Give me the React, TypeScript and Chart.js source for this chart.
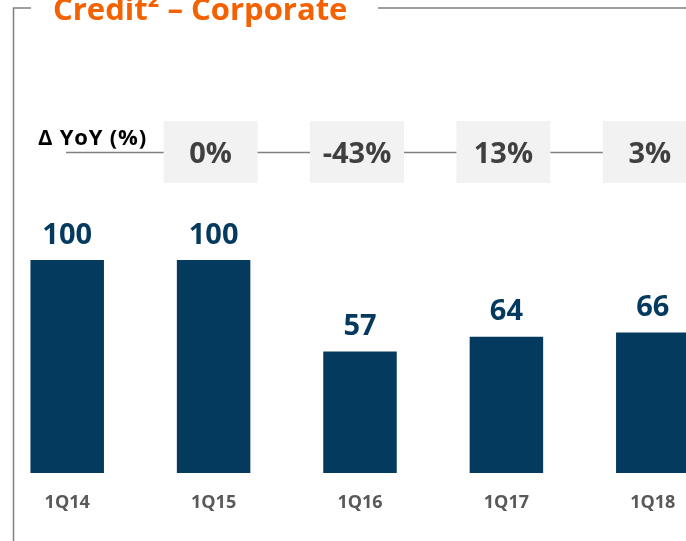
import { useEffect, useRef } from 'react';
import { Chart, registerables } from 'chart.js';

Chart.register(...registerables);

const categories = ['1Q14', '1Q15', '1Q16', '1Q17', '1Q18'];
const values = [100, 100, 57, 64, 66];
const yoyChanges = ['0%', '-43%', '13%', '3%'];
const titleText = 'Credit² – Corporate';
const yoyTitle = 'Δ YoY (%)';

const FONT = "'Open Sans', sans-serif";
const OX = 6; // canvas is shifted 6px left of the page

export default function App() {
  const ref = useRef<HTMLCanvasElement>(null);

  useEffect(() => {
    const canvas = ref.current!;
    const overlay = {
      id: 'overlay',
      beforeDatasetsDraw(chart: any) {
        const ctx = chart.ctx;
        const x = chart.scales.x;
        ctx.save();
        // frame
        ctx.strokeStyle = '#808080';
        ctx.lineWidth = 1.5;
        ctx.beginPath();
        ctx.moveTo(13.5 + OX, 541);
        ctx.lineTo(13.5 + OX, 8);
        ctx.lineTo(31 + OX, 8);
        ctx.moveTo(378 + OX, 8);
        ctx.lineTo(740, 8);
        ctx.stroke();
        // title
        ctx.fillStyle = '#F46100';
        ctx.font = `bold 31px ${FONT}`;
        ctx.textAlign = 'left';
        ctx.textBaseline = 'alphabetic';
        ctx.fillText(titleText, 53 + OX, 20);
        // yoy title
        ctx.fillStyle = '#000000';
        ctx.font = `bold 22px ${FONT}`;
        (ctx as any).letterSpacing = '0.8px';
        ctx.fillText(yoyTitle, 38 + OX, 145);
        (ctx as any).letterSpacing = '0px';
        // connecting line
        const lastX = x.getPixelForValue(yoyChanges.length) - 3;
        ctx.strokeStyle = '#808080';
        ctx.lineWidth = 1.5;
        ctx.beginPath();
        ctx.moveTo(66 + OX, 152.5);
        ctx.lineTo(lastX, 152.5);
        ctx.stroke();
        // boxes
        yoyChanges.forEach((t, i) => {
          const cx = x.getPixelForValue(i + 1) - 3;
          ctx.fillStyle = '#F2F2F2';
          ctx.fillRect(cx - 47, 121, 94, 62);
          ctx.fillStyle = '#404040';
          ctx.font = `bold 29px ${FONT}`;
          ctx.textAlign = 'center';
          ctx.fillText(t, cx, 163);
        });
        ctx.restore();
      },
      afterDatasetsDraw(chart: any) {
        const ctx = chart.ctx;
        const meta = chart.getDatasetMeta(0);
        ctx.save();
        ctx.fillStyle = '#033A5E';
        ctx.font = `bold 29px ${FONT}`;
        ctx.textAlign = 'center';
        ctx.textBaseline = 'alphabetic';
        meta.data.forEach((bar: any, i: number) => {
          ctx.fillText(String(values[i]), bar.x, bar.y - 16.5);
        });
        ctx.restore();
      },
    };

    const chart = new Chart(canvas, {
      type: 'bar',
      data: {
        labels: categories,
        datasets: [
          {
            data: values,
            backgroundColor: '#033A5E',
            borderWidth: 0,
            categoryPercentage: 1,
            barPercentage: 0.502,
          },
        ],
      },
      options: {
        responsive: false,
        animation: false,
        devicePixelRatio: 1,
        layout: { padding: { top: 47, bottom: 8.4, left: 0, right: 0 } },
        plugins: { legend: { display: false }, tooltip: { enabled: false } },
        scales: {
          x: {
            grid: { display: false, drawTicks: false },
            border: { display: false },
            ticks: {
              color: '#595959',
              font: { family: FONT, size: 18, weight: 'bold' },
              padding: 19,
            },
          },
          y: { display: false, min: 0, max: 200 },
        },
      },
      plugins: [overlay],
    });
    return () => chart.destroy();
  }, []);

  return (
    <div
      style={{
        position: 'fixed',
        left: 0,
        top: 0,
        width: 686,
        height: 541,
        overflow: 'hidden',
        background: '#ffffff',
      }}
    >
      <canvas
        ref={ref}
        width={732}
        height={541}
        style={{ position: 'absolute', left: -OX, top: 0, width: 732, height: 541 }}
      />
    </div>
  );
}
